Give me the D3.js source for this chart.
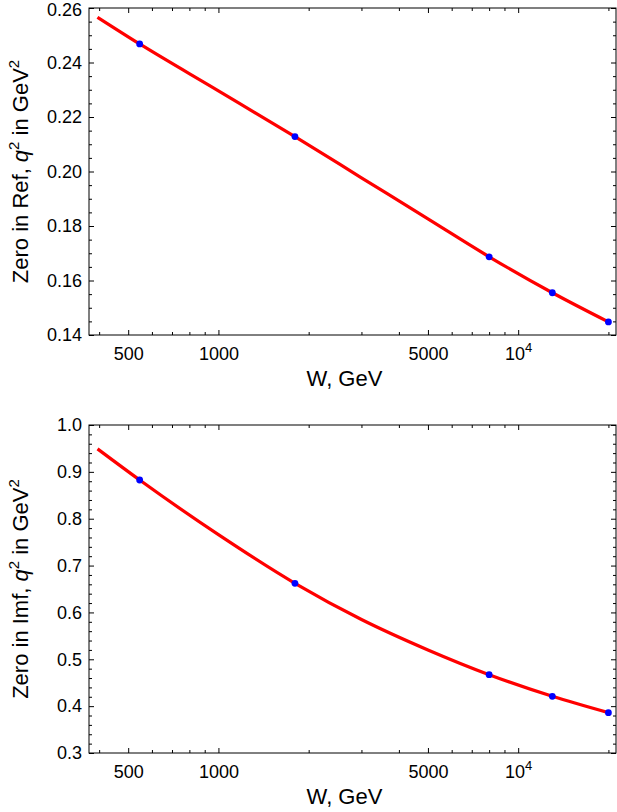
<!DOCTYPE html>
<html>
<head>
<meta charset="utf-8">
<script src="https://cdn.jsdelivr.net/npm/d3@7"></script>
<style>
  html, body { margin: 0; padding: 0; background: #fff; }
  svg { display: block; font-family: "Liberation Sans", Arial, sans-serif; }
  .tick text { font-size: 18px; fill: #000; }
  .tick line { stroke: #000; }
  .frame { fill: none; stroke: #000; stroke-width: 1; }
  .ax-label { font-size: 22px; fill: #000; }
</style>
</head>
<body>
<svg id="chart" width="617" height="812"></svg>
<script>
// energies of the measured points (GeV)
const pointW = [546, 1800, 8000, 13000, 20000];
const pointRe = [0.2468, 0.2128, 0.1687, 0.1555, 0.1448];
const pointIm = [0.8826, 0.6622, 0.4672, 0.4210, 0.3861];

// fitted curve
const curveW  = [395, 546, 1000, 1800, 3000, 5000, 8000, 13000, 20000];
const curveRe = [0.2566, 0.2468, 0.2296, 0.2128, 0.1977, 0.1826, 0.1687, 0.1555, 0.1448];
const curveIm = [0.949, 0.8826, 0.766, 0.6622, 0.585, 0.520, 0.4672, 0.4210, 0.3861];

const xMajor = [500, 1000, 5000, 10000];
const xMinor = [400, 600, 700, 800, 900, 2000, 3000, 4000, 6000, 7000, 8000, 9000, 20000];

const reMajor = [0.14, 0.16, 0.18, 0.20, 0.22, 0.24, 0.26];
const imMajor = [0.3, 0.4, 0.5, 0.6, 0.7, 0.8, 0.9, 1.0];

const svg = d3.select('#chart');
const L = 89, R = 616;
const x = d3.scaleLog().domain([370, 21200]).range([L, R]);

function drawPanel(top, bottom, yDomain, yMajor, yMinorStep, fmt, curveVals, pointVals, labelMain) {
  const y = d3.scaleLinear().domain(yDomain).range([bottom, top]);
  const yMinor = d3.range(yDomain[0], yDomain[1] + 1e-9, yMinorStep)
    .filter(v => !yMajor.some(m => Math.abs(m - v) < 1e-9));
  const g = svg.append('g');

  // bottom axis with labels
  const xb = g.append('g').attr('transform', `translate(0,${bottom})`)
    .call(d3.axisBottom(x).tickValues(xMajor).tickSize(-5).tickPadding(12)
      .tickFormat(d => d === 10000 ? '' : d3.format('d')(d)));
  xb.selectAll('.tick').filter(d => d === 10000).select('text').each(function() {
    const t = d3.select(this);
    t.append('tspan').text('10');
    t.append('tspan').attr('font-size', '13px').attr('dy', '-0.6em').text('4');
  });
  g.append('g').attr('transform', `translate(0,${bottom})`)
    .call(d3.axisBottom(x).tickValues(xMinor).tickSize(-3).tickFormat(''));
  // top axis, ticks only
  g.append('g').attr('transform', `translate(0,${top})`)
    .call(d3.axisTop(x).tickValues(xMajor).tickSize(-5).tickFormat(''));
  g.append('g').attr('transform', `translate(0,${top})`)
    .call(d3.axisTop(x).tickValues(xMinor).tickSize(-3).tickFormat(''));

  // left axis with labels
  const yl0 = g.append('g').attr('transform', `translate(${L},0)`)
    .call(d3.axisLeft(y).tickValues(yMajor).tickSize(-5).tickPadding(7).tickFormat(d3.format(fmt)));
  // keep the topmost label inside the page
  yl0.selectAll('.tick text').filter(d => y(d) < 10).attr('dy', '0.4em');
  g.append('g').attr('transform', `translate(${L},0)`)
    .call(d3.axisLeft(y).tickValues(yMinor).tickSize(-3).tickFormat(''));
  // right axis, ticks only
  g.append('g').attr('transform', `translate(${R},0)`)
    .call(d3.axisRight(y).tickValues(yMajor).tickSize(-5).tickFormat(''));
  g.append('g').attr('transform', `translate(${R},0)`)
    .call(d3.axisRight(y).tickValues(yMinor).tickSize(-3).tickFormat(''));

  g.selectAll('.domain').remove();
  g.append('rect').attr('class', 'frame')
    .attr('x', L).attr('y', top).attr('width', R - L).attr('height', bottom - top);

  const line = d3.line().x((d, i) => x(curveW[i])).y(d => y(d)).curve(d3.curveMonotoneX);
  g.append('path').datum(curveVals)
    .attr('d', line).attr('fill', 'none').attr('stroke', '#ff0000').attr('stroke-width', 3.2);

  g.selectAll('circle').data(pointVals).join('circle')
    .attr('cx', (d, i) => x(pointW[i])).attr('cy', d => y(d)).attr('r', 3.4)
    .attr('fill', '#0000ff');

  // axis titles
  g.append('text').attr('class', 'ax-label')
    .attr('x', (L + R) / 2 - 8).attr('y', bottom + 51).attr('text-anchor', 'middle')
    .text('W, GeV');
  const yl = g.append('text').attr('class', 'ax-label')
    .attr('transform', `translate(28,${(top + bottom) / 2}) rotate(-90)`)
    .attr('text-anchor', 'middle');
  yl.append('tspan').text(labelMain + ', ');
  yl.append('tspan').attr('font-style', 'italic').text('q');
  yl.append('tspan').attr('font-size', '15px').attr('dy', '-0.6em').text('2');
  yl.append('tspan').attr('dy', '0.4em').text(' in GeV');
  yl.append('tspan').attr('font-size', '15px').attr('dy', '-0.6em').text('2');
}

drawPanel(8, 335, [0.14, 0.26], reMajor, 0.005, '.2f', curveRe, pointRe, 'Zero in Ref');
drawPanel(425, 753, [0.3, 1.0], imMajor, 0.02, '.1f', curveIm, pointIm, 'Zero in Imf');
</script>
</body>
</html>
